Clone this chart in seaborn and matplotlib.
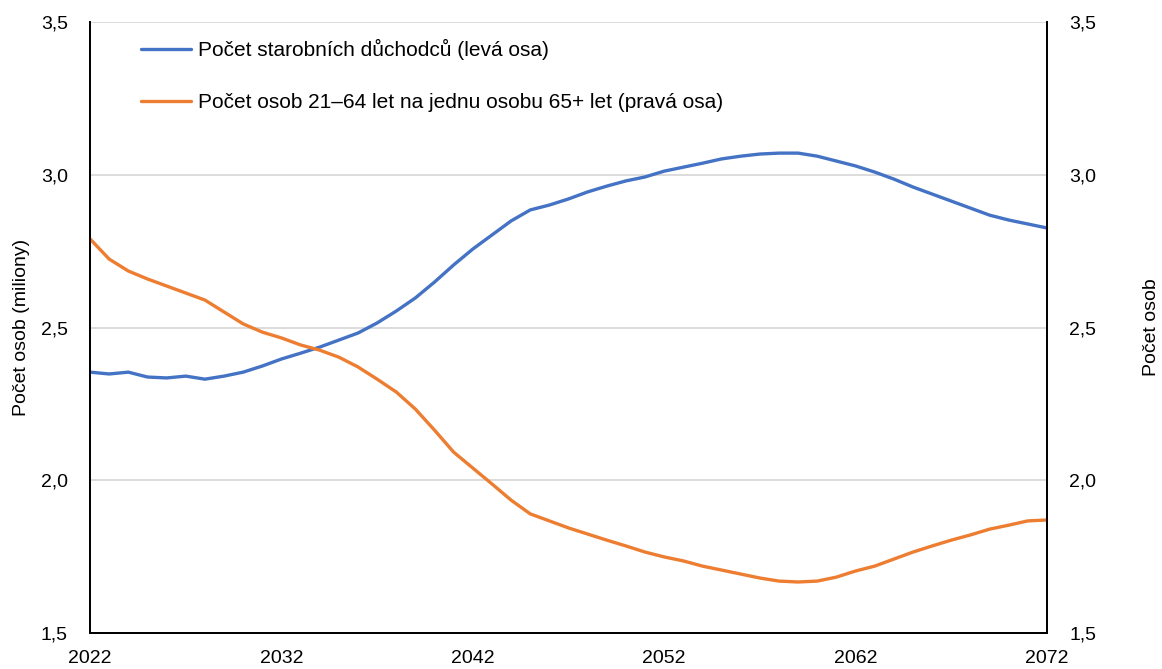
import seaborn as sns
import matplotlib.pyplot as plt
import pandas as pd

# data
years = list(range(2022, 2073))
duchodci = [2.354, 2.348, 2.354, 2.338, 2.335, 2.341, 2.331, 2.341, 2.354, 2.374,
            2.397, 2.416, 2.436, 2.459, 2.482, 2.515, 2.554, 2.597, 2.649, 2.705,
            2.757, 2.803, 2.849, 2.885, 2.901, 2.921, 2.944, 2.963, 2.980, 2.993,
            3.012, 3.025, 3.038, 3.052, 3.061, 3.068, 3.071, 3.071, 3.061, 3.045,
            3.029, 3.009, 2.986, 2.960, 2.937, 2.914, 2.891, 2.868, 2.852, 2.839,
            2.826]
pomer = [2.790, 2.724, 2.685, 2.659, 2.636, 2.613, 2.590, 2.551, 2.512, 2.485,
         2.466, 2.443, 2.426, 2.403, 2.371, 2.331, 2.289, 2.233, 2.164, 2.092,
         2.040, 1.988, 1.935, 1.890, 1.867, 1.844, 1.824, 1.804, 1.785, 1.765,
         1.749, 1.736, 1.719, 1.706, 1.693, 1.680, 1.670, 1.667, 1.670, 1.683,
         1.703, 1.719, 1.742, 1.765, 1.785, 1.804, 1.821, 1.840, 1.853, 1.867,
         1.870]
y_ticks = [1.5, 2.0, 2.5, 3.0, 3.5]
y_labels = ["1,5", "2,0", "2,5", "3,0", "3,5"]
x_ticks = [2022, 2032, 2042, 2052, 2062, 2072]

label_1 = "Počet starobních důchodců (levá osa)"
label_2 = "Počet osob 21–64 let na jednu osobu 65+ let (pravá osa)"

df = pd.DataFrame({"rok": years, "duchodci": duchodci, "pomer": pomer})

sns.set_style("white")
plt.rcParams['font.family'] = ['Liberation Sans', 'DejaVu Sans']
plt.rcParams['text.color'] = 'black'
plt.rcParams['xtick.color'] = 'black'
plt.rcParams['ytick.color'] = 'black'
plt.rcParams['axes.labelcolor'] = 'black'

fig = plt.figure(figsize=(11.62, 6.69), dpi=100)
ax = fig.add_axes([0.0775, 0.0538, 0.8235, 0.9132])
ax2 = ax.twinx()

sns.lineplot(data=df, x="rok", y="duchodci", ax=ax, color="#4472C4", linewidth=2.4, label=label_1, legend=False)
sns.lineplot(data=df, x="rok", y="pomer", ax=ax2, color="#ED7D31", linewidth=2.4, label=label_2, legend=False)

for a in (ax, ax2):
    a.set_ylim(1.5, 3.5)
    a.set_yticks(y_ticks)
    a.set_yticklabels(y_labels, fontsize=14)
    a.tick_params(length=0, pad=16)
    a.spines['top'].set_visible(False)
    for s in ('left', 'right', 'bottom'):
        a.spines[s].set_color('black')
        a.spines[s].set_linewidth(1.3)

ax.set_xlim(2022, 2072)
ax.set_xticks(x_ticks)
ax.set_xticklabels([str(x) for x in x_ticks], fontsize=14)
ax.tick_params(axis='x', pad=12)
ax.grid(axis='y', color='#d9d9d9', linewidth=1.3)
ax.set_axisbelow(True)
ax.set_xlabel("")
ax.set_ylabel("Počet osob (miliony)", fontsize=14, labelpad=8)
ax2.set_ylabel("Počet osob", fontsize=14, rotation=90, labelpad=34)

h1, l1 = ax.get_legend_handles_labels()
h2, l2 = ax2.get_legend_handles_labels()
leg = ax2.legend(h1 + h2, l1 + l2, loc='upper left', bbox_to_anchor=(0.034, 1.003),
                 frameon=False, fontsize=15, handlelength=2.4, handletextpad=0.3,
                 labelspacing=1.6)

fig.savefig("out.png", dpi=100)
